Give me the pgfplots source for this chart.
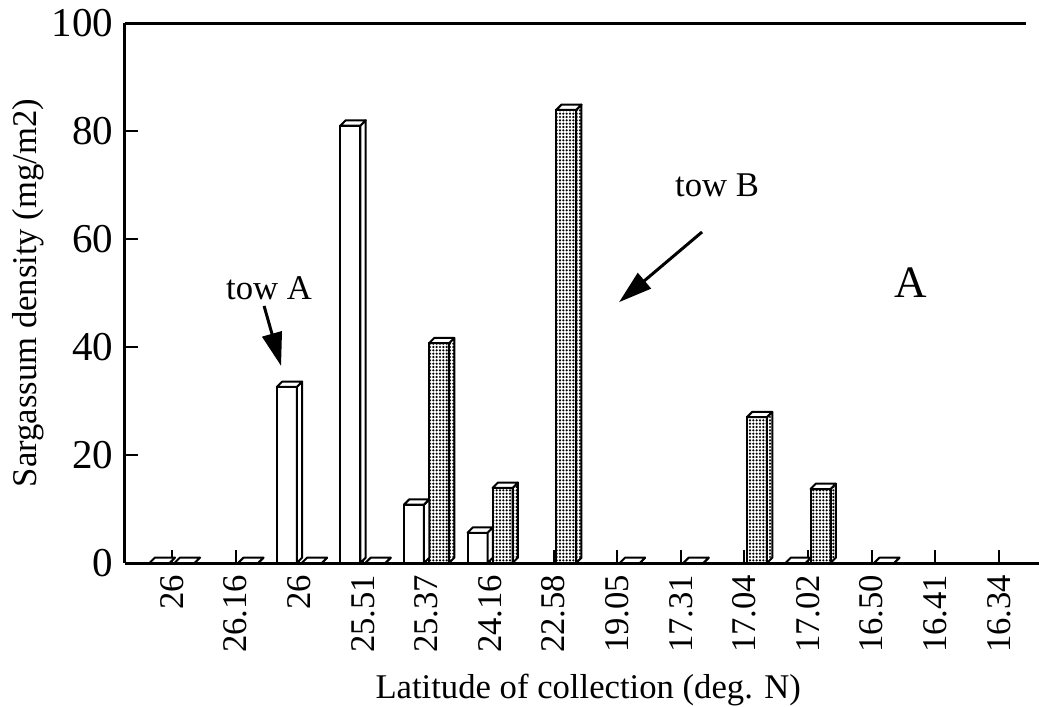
\documentclass[border=0pt]{standalone}
\usepackage{fontspec}
\setmainfont{Liberation Serif}
\usepackage{pgfplots}
\pgfplotsset{compat=1.18}
\usepackage{pgfplotstable}
\usetikzlibrary{patterns.meta,arrows.meta}

\tikzdeclarepattern{
  name=densedots,
  type=uncolored,
  bottom left={(-0.5pt,-0.5pt)},
  top right={(0.5pt,0.5pt)},
  tile size={(1.0pt,1.0pt)},
  code={\pgfpathcircle{\pgfpointorigin}{0.36pt}\pgfusepath{fill}}
}
\pgfdeclareplotmark{emptymark}{}

\pgfplotstableread{
i A B
0 0 0
1 nan 0
2 32.6 0
3 81 0
4 10.8 40.7
5 5.6 13.9
6 nan 83.9
7 nan 0
8 nan 0
9 nan 27
10 0 13.7
11 nan 0
12 nan nan
13 nan nan
}\data

\begin{document}
\begin{tikzpicture}[font=\fontsize{10.4pt}{12.5pt}\selectfont]
\useasboundingbox (-37.5pt,-43.2pt) rectangle (274.2pt,168.9pt);
\begin{axis}[
  x=19.08pt, y=1.62pt,
  xmin=-0.74, xmax=13.57, ymin=0, ymax=100,
  enlargelimits=false, clip=false,
  axis x line*=bottom, axis y line*=left,
  axis line style={line width=0.9pt},
  tick style={line width=0.6pt, black},
  major tick length=4pt, tick align=inside,
  xtick={0,...,13},
  xticklabels={26,26.16,26,25.51,25.37,24.16,22.58,19.05,17.31,17.04,17.02,16.50,16.41,16.34},
  xticklabel style={rotate=90, anchor=east},
  ytick={0,20,40,60,80,100},
  yticklabel style={font=\fontsize{12.3pt}{14pt}\selectfont},
  /pgf/number format/assume math mode=true,
  xlabel={Latitude of collection (deg. N)},
  ylabel={Sargassum density (mg/m2)},
  every axis x label/.style={at={(axis description cs:0.509,-0.235)}, anchor=center},
  every axis y label/.style={at={(axis description cs:-0.1066,0.5)}, rotate=90, anchor=center},
]
% front faces
\addplot[ybar, bar width=6pt, bar shift=-3.75pt, draw=black, fill=white, line width=0.6pt]
  table[x=i, y=A] {\data};
\addplot[ybar, bar width=6pt, bar shift=3.75pt, draw=black, line width=0.6pt, pattern=densedots, pattern color=black]
  table[x=i, y=B] {\data};
% 3-D top and side faces of tow A bars
\addplot[scatter, only marks, mark=emptymark,
  visualization depends on={\thisrow{A} \as \hv},
  scatter/@pre marker code/.code={%
    \pgfmathsetmacro\Hn{-\hv*1.62}%
    \pgfmathsetmacro\Hb{1.6-\hv*1.62}%
    \filldraw[fill=white,draw=black,line width=0.6pt,line join=round] (-0.75pt,0pt) -- (0.85pt,1.6pt) -- (0.85pt,\Hb pt) -- (-0.75pt,\Hn pt) -- cycle;
    \filldraw[fill=white,draw=black,line width=0.6pt,line join=round] (-6.75pt,0pt) -- (-0.75pt,0pt) -- (0.85pt,1.6pt) -- (-5.15pt,1.6pt) -- cycle;
  },
  scatter/@post marker code/.code={}]
  table[x=i, y=A] {\data};
% 3-D top and side faces of tow B bars
\addplot[scatter, only marks, mark=emptymark,
  visualization depends on={\thisrow{B} \as \hv},
  scatter/@pre marker code/.code={%
    \pgfmathsetmacro\Hn{-\hv*1.62}%
    \pgfmathsetmacro\Hb{1.6-\hv*1.62}%
    \filldraw[pattern=densedots,pattern color=black,draw=black,line width=0.6pt,line join=round] (6.75pt,0pt) -- (8.35pt,1.6pt) -- (8.35pt,\Hb pt) -- (6.75pt,\Hn pt) -- cycle;
    \filldraw[fill=white,draw=black,line width=0.6pt,line join=round] (0.75pt,0pt) -- (6.75pt,0pt) -- (8.35pt,1.6pt) -- (2.35pt,1.6pt) -- cycle;
  },
  scatter/@post marker code/.code={}]
  table[x=i, y=B] {\data};
% top axis line and bottom extension
\draw[line width=0.9pt] (rel axis cs:0,1) -- (rel axis cs:0.99,1);
\draw[line width=0.9pt] (rel axis cs:1,0) -- ++(1.2pt,0pt);
% annotations
\node at (axis cs:1.525,50.9) {tow A};
\draw[line width=0.9pt, -{Triangle[length=10pt,width=6pt]}] (axis cs:1.447,47.6) -- (axis cs:1.714,36.5);
\node at (axis cs:8.569,70.0) {tow B};
\draw[line width=0.9pt, -{Triangle[length=10pt,width=6pt]}] (axis cs:8.333,61.3) -- (axis cs:7.028,48.3);
\node[font=\fontsize{13.5pt}{16pt}\selectfont] at (axis cs:11.62,52.0) {A};
\end{axis}
\end{tikzpicture}
\end{document}
